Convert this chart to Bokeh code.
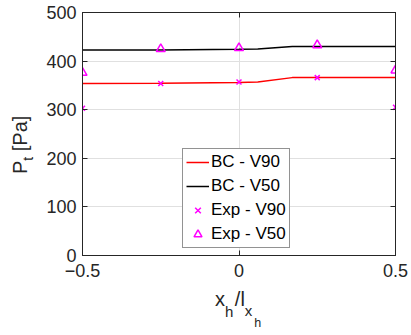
import numpy as np
from bokeh.plotting import figure
from bokeh.models import Range1d, LinearAxis, FixedTicker, Legend, LegendItem, Div
from bokeh.layouts import row, column
from bokeh.embed import file_html
from bokeh.resources import INLINE

# Model lines (BC)
bc_x = [-0.5, -0.25, 0.0, 0.06, 0.17, 0.25, 0.5]
bc_v90 = [354, 354.5, 356, 357, 366, 366, 366]
bc_v50 = [423, 423, 424.5, 425, 430, 430, 430]

# Experimental points
exp_x = [-0.5, -0.25, 0.0, 0.25, 0.5]
exp_v90 = [303, 354, 357, 366, 305]
exp_v50 = [376, 425, 427, 433, 381]

x_ticks = [-0.5, 0, 0.5]
y_ticks = [0, 100, 200, 300, 400, 500]

FONT = "Liberation Sans"
TXT = "#262626"

YDIV_W = 40
PLOT_H = 290

p = figure(width=411 - YDIV_W, height=PLOT_H, output_backend="svg", toolbar_location=None,
           x_range=Range1d(-0.5, 0.5), y_range=Range1d(0, 500),
           min_border_left=82 - YDIV_W, min_border_right=16, min_border_top=12,
           min_border_bottom=PLOT_H - 255)
p.outline_line_color = TXT
p.outline_line_width = 1

for ax in (p.xaxis[0], p.yaxis[0]):
    ax.major_label_text_font = FONT
    ax.major_label_text_font_size = "18px"
    ax.major_label_text_color = TXT
    ax.axis_line_color = TXT
    ax.major_tick_line_color = TXT
    ax.major_tick_in = 5
    ax.major_tick_out = 0
    ax.minor_tick_line_color = None
p.xaxis[0].ticker = FixedTicker(ticks=x_ticks)
p.yaxis[0].ticker = FixedTicker(ticks=y_ticks)
p.xaxis[0].major_label_standoff = 8
p.yaxis[0].major_label_standoff = 6

def mirror_axis(ticks):
    return LinearAxis(ticker=FixedTicker(ticks=ticks), major_label_text_font_size="0px",
                      major_label_text_color=None, major_label_text_alpha=0,
                      major_tick_in=5, major_tick_out=0, minor_tick_line_color=None,
                      axis_line_color=TXT, major_tick_line_color=TXT, major_label_standoff=0)

p.add_layout(mirror_axis(x_ticks), "above")
p.add_layout(mirror_axis(y_ticks), "right")

p.xgrid.ticker = FixedTicker(ticks=x_ticks)
p.ygrid.ticker = FixedTicker(ticks=y_ticks)
p.grid.grid_line_color = "#e0e0e0"

r1 = p.line(bc_x, bc_v90, line_color="#ff0000", line_width=1.5)
r2 = p.line(bc_x, bc_v50, line_color="#000000", line_width=1.5)
r3 = p.scatter(exp_x, exp_v90, marker="x", size=7, line_color="#ff00ff", line_width=1.5)
r4 = p.scatter(exp_x, exp_v50, marker="triangle", size=9, line_color="#ff00ff",
               fill_alpha=0, line_width=1.5)

legend = Legend(items=[LegendItem(label="BC - V90", renderers=[r1]),
                       LegendItem(label="BC - V50", renderers=[r2]),
                       LegendItem(label="Exp - V90", renderers=[r3]),
                       LegendItem(label="Exp - V50", renderers=[r4])],
                location=(100, 7))
legend.label_text_font = FONT
legend.label_text_font_size = "17px"
legend.label_text_color = "#000000"
legend.border_line_color = TXT
legend.border_line_width = 1
legend.background_fill_color = "white"
legend.background_fill_alpha = 1
legend.glyph_width = 23
legend.glyph_height = 20
legend.label_height = 20
legend.spacing = 4
legend.padding = 3
legend.margin = 0
legend.label_standoff = 2
p.add_layout(legend, "center")

BASE = f"font-family:'{FONT}';color:{TXT};white-space:nowrap;line-height:1;"

def sub(txt, size, shift, ml=0):
    return (f"<span style=\"font-size:{size}px;position:relative;top:{shift}px;"
            f"margin-left:{ml}px\">{txt}</span>")

# y label: P_t [Pa], rotated
ylabel_html = (
    f"<div style=\"position:relative;width:{YDIV_W}px;height:{PLOT_H}px;\">"
    f"<div style=\"position:absolute;left:10px;top:174px;{BASE}font-size:20px;"
    f"transform-origin:0 0;transform:rotate(-90deg);\">"
    f"P{sub('t', 14, 6)}&nbsp;[Pa]</div></div>"
)
# x label: x_h / l_{x_h}
xlabel_html = (
    f"<div style=\"position:relative;width:411px;height:{335 - PLOT_H}px;\">"
    f"<div style=\"position:absolute;left:215px;top:-1px;{BASE}font-size:20px;\">"
    f"x{sub('h', 15, 11)}{sub('/l', 20, 0, 1.5)}{sub('x', 15, 10)}{sub('h', 12.5, 21, 2)}"
    f"</div></div>"
)

ydiv = Div(text=ylabel_html, width=YDIV_W, height=PLOT_H, margin=0,
           styles={"overflow": "visible"})
xdiv = Div(text=xlabel_html, width=411, height=335 - PLOT_H, margin=0,
           styles={"overflow": "visible"})

layout = column(row(ydiv, p, spacing=0), xdiv, spacing=0)

open("out.html", "w").write(file_html(layout, INLINE))
